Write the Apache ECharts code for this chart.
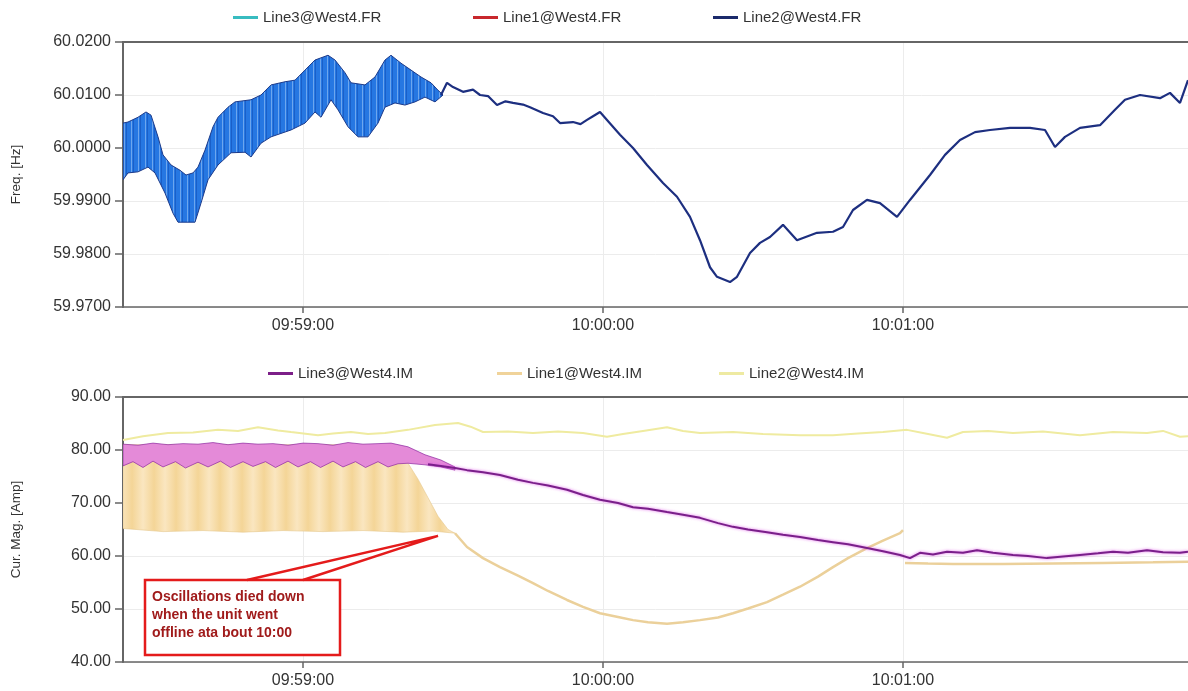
<!DOCTYPE html>
<html><head><meta charset="utf-8">
<script src="https://cdn.jsdelivr.net/npm/echarts@6/dist/echarts.min.js"></script>
<style>html,body{margin:0;padding:0;background:#fff}#c{width:1188px;height:691px}</style>
</head><body><div id="c"></div>
<script>
// time axis: seconds relative to 09:59:00
const xTickValues = [0, 60, 120];
const xTickLabels = ['09:59:00', '10:00:00', '10:01:00'];
const freqLegend = ['Line3@West4.FR', 'Line1@West4.FR', 'Line2@West4.FR'];
const curLegend = ['Line3@West4.IM', 'Line1@West4.IM', 'Line2@West4.IM'];

// Frequency chart: oscillation band (upper / lower envelope) and Line2
const freqBandUpper = [[-36,60.0047],[-35,60.0049],[-33,60.0058],[-31.4,60.0068],[-30.4,60.0062],[-29,60.0021],[-28,59.9987],[-26.4,59.9968],[-24.6,59.9958],[-23.4,59.9949],[-22,59.9953],[-21,59.9964],[-19.6,59.9996],[-18,60.0040],[-17,60.0058],[-15,60.0077],[-13.6,60.0087],[-10.4,60.0091],[-8.4,60.0100],[-6.4,60.0119],[-3.6,60.0125],[-1.6,60.0128],[0.4,60.0147],[2.4,60.0166],[5,60.0175],[6.4,60.0166],[8.4,60.0142],[9.6,60.0123],[12.4,60.0119],[14.4,60.0134],[16.4,60.0166],[17.6,60.0175],[19.6,60.0160],[21.6,60.0147],[23.6,60.0134],[25.6,60.0123],[27,60.0109],[28,60.0100]];
const freqBandLower = [[-36,59.9940],[-35,59.9953],[-33,59.9955],[-31,59.9964],[-29.6,59.9953],[-27.6,59.9915],[-26,59.9877],[-25,59.9860],[-21.6,59.9860],[-20.4,59.9896],[-19,59.9940],[-17,59.9968],[-14.4,59.9991],[-11.6,59.9992],[-10.4,59.9983],[-8.4,60.0009],[-6.4,60.0021],[-2.4,60.0034],[0.4,60.0047],[2.4,60.0068],[3.6,60.0058],[5.6,60.0091],[7,60.0072],[9,60.0040],[11,60.0021],[13,60.0021],[15,60.0047],[16.4,60.0077],[18.4,60.0085],[20.4,60.0081],[22.4,60.0087],[24.4,60.0096],[26.4,60.0087],[28,60.0100]];
const freqLine2 = [[27.6,60.0100],[28.8,60.0123],[30,60.0115],[32,60.0106],[34,60.0110],[35.4,60.0100],[37,60.0098],[38.8,60.0081],[40.5,60.0088],[42,60.0085],[44,60.0082],[45.4,60.0077],[48,60.0066],[50,60.0060],[51.4,60.0047],[54,60.0049],[55.5,60.0045],[56.8,60.0053],[58,60.0060],[59.4,60.0068],[60.8,60.0053],[63.4,60.0025],[66,60.0000],[68.8,59.9968],[72,59.9934],[74.8,59.9908],[77.4,59.9870],[79.4,59.9826],[81.4,59.9775],[82.8,59.9757],[85.4,59.9747],[86.8,59.9757],[89.4,59.9802],[91.4,59.9821],[93.4,59.9832],[96,59.9855],[98.8,59.9826],[102.8,59.9840],[106,59.9842],[108,59.9851],[110,59.9883],[112.8,59.9902],[115.4,59.9896],[118.8,59.9870],[121.4,59.9902],[125.4,59.9949],[128.4,59.9987],[131.4,60.0015],[134.4,60.0030],[137.4,60.0034],[141.4,60.0038],[145.4,60.0038],[148.4,60.0034],[150.4,60.0002],[152.4,60.0021],[155.4,60.0038],[159.4,60.0043],[162.4,60.0072],[164.4,60.0091],[167.4,60.0100],[171.4,60.0094],[173.4,60.0104],[175.4,60.0085],[177,60.0128]];
const freqLine1 = [];

// Current chart
const curLine2 = [[-36,81.9],[-32,82.6],[-27,83.2],[-22,83.3],[-17,83.8],[-13,83.6],[-9,84.3],[-5,83.7],[-2.4,83.4],[3,82.8],[6,83.1],[9.6,83.4],[13,83.0],[16.4,83.2],[21,83.8],[26.4,84.7],[31,85.1],[33.5,84.4],[36,83.4],[41,83.5],[46,83.2],[51,83.5],[56,83.2],[60.8,82.5],[64,83.0],[68,83.6],[72.8,84.3],[76,83.6],[79.4,83.2],[86,83.4],[92,83.0],[99.4,82.8],[106,82.8],[111,83.1],[116,83.4],[120.8,83.8],[124,83.2],[128.8,82.3],[132,83.4],[137,83.6],[142,83.2],[148,83.5],[155.4,82.8],[162,83.4],[168.8,83.2],[172,83.6],[175.4,82.5],[177,82.6]];
const curLine3BandUpper = [[-36,81.1],[-33,80.9],[-30,81.3],[-27,81.0],[-24,81.2],[-21,81.1],[-18,81.4],[-15,81.0],[-12,81.3],[-9,81.1],[-6,81.2],[-3,80.9],[0,81.3],[3,81.2],[6,80.9],[9,81.4],[12,81.1],[15,81.2],[17.6,81.3],[21,80.6],[24.4,79.1],[27.6,78.1],[30.4,76.8]];
const curLine3BandLower = [[-36,77.0],[-34,77.8],[-32,76.7],[-30,77.9],[-28,76.8],[-25.5,77.8],[-23.5,76.6],[-21,77.7],[-19,76.8],[-16.5,77.9],[-14.5,76.7],[-12,77.8],[-10,76.9],[-7.5,77.8],[-5.5,76.7],[-3,77.9],[-1,76.8],[1.5,77.8],[3.5,76.7],[6,77.9],[8,76.8],[10.5,77.8],[12.5,76.7],[15,77.8],[17,76.8],[19,77.4],[21,77.5],[24.4,77.2],[27.6,76.8],[30.4,76.2]];
const curLine3 = [[25,77.3],[27.6,77.0],[30.4,76.6],[32.8,76.2],[36,75.8],[39.4,75.3],[43,74.4],[46,73.8],[49,73.3],[52.8,72.5],[56,71.5],[59.4,70.6],[63,70.0],[66,69.2],[69,68.9],[72.8,68.3],[76,67.8],[79.4,67.2],[83,66.2],[86,65.5],[89,65.0],[92.8,64.5],[96,64.0],[99.4,63.6],[103,63.0],[106,62.6],[109,62.2],[112.8,61.5],[116,60.9],[119.4,60.2],[121.4,59.6],[123.4,60.6],[126,60.3],[128.8,60.8],[132,60.6],[134.8,61.1],[138,60.6],[142,60.2],[145,60.0],[148.8,59.6],[152,59.9],[155.4,60.2],[159,60.5],[162,60.8],[165,60.6],[168.8,61.1],[172,60.7],[175.4,60.6],[177,60.8]];
const curLine1BandUpper = [[-36,81.0],[-20,81.0],[0,81.0],[17,81.0],[19,80.0],[21,77.5],[23,74.5],[25,71.0],[27,67.5],[29,65.0],[30.4,64.3]];
const curLine1BandLower = [[-36,65.2],[-28,64.6],[-20,64.8],[-12,64.5],[-4,64.8],[4,64.6],[12,64.8],[20,64.5],[26,64.7],[30.4,64.3]];
const curLine1 = [[30.4,64.3],[32.8,61.7],[36,59.6],[39.4,57.9],[43,56.3],[46,54.9],[49,53.4],[52.8,51.7],[56,50.4],[59.4,49.2],[63,48.5],[66,47.9],[69,47.5],[72.8,47.2],[76,47.5],[79.4,47.9],[83,48.4],[86,49.2],[89,50.1],[92.8,51.3],[96,52.7],[99.4,54.2],[103,56.1],[106,57.9],[109,59.6],[112.8,61.5],[116,62.9],[119.4,64.3],[120,64.9],[120.2,null],[120.4,58.7],[125,58.6],[130,58.5],[140,58.5],[150,58.6],[160,58.7],[170,58.8],[177,58.9]];

const annotationTip = [27, 63.8];
const annotationText = 'Oscillations died down\nwhen the unit went\noffline ata bout 10:00';

const FONT = '"Liberation Sans", Arial, sans-serif';
const chart = echarts.init(document.getElementById('c'));

// stripe pattern for the oscillating current band
const pc = document.createElement('canvas'); pc.width = 22; pc.height = 4;
const g = pc.getContext('2d');
const grd = g.createLinearGradient(0,0,22,0);
grd.addColorStop(0,'#f4d597'); grd.addColorStop(0.5,'#fae6c0'); grd.addColorStop(1,'#f4d597');
g.fillStyle = grd; g.fillRect(0,0,22,4);

// streak pattern for the oscillating frequency band
const pb = document.createElement('canvas'); pb.width = 7; pb.height = 4;
const gb = pb.getContext('2d');
gb.fillStyle = '#2677e2'; gb.fillRect(0,0,7,4);
gb.fillStyle = '#6da6ee'; gb.fillRect(5,0,1,4);
gb.fillStyle = '#1a5fc8'; gb.fillRect(0,0,1,4);

function band(name, upper, lower, fill, stroke, idx, z) {
  return {
    type:'custom', name, xAxisIndex:idx, yAxisIndex:idx, z, clip:true, silent:true,
    data:[upper[0]],
    renderItem:(params, api) => {
      const pts = upper.map(p => api.coord(p)).concat(lower.slice().reverse().map(p => api.coord(p)));
      return {type:'polygon', shape:{points:pts}, style:{fill, stroke, lineWidth:1}};
    }
  };
}

function xAxisFor(i) {
  return {
    type:'value', gridIndex:i, min:-36, max:177,
    axisLine:{show:true, onZero:false, lineStyle:{color:'#666', width:1.5}},
    axisTick:{show:true, customValues:xTickValues, length:6, lineStyle:{color:'#666', width:1.5}},
    axisLabel:{customValues:xTickValues, formatter:v => xTickLabels[xTickValues.indexOf(v)], fontSize:16, color:'#333', fontFamily:FONT, margin:11},
    splitLine:{show:true, lineStyle:{color:'#ececec'}}
  };
}
function topAxisFor(i) {
  return {type:'value', gridIndex:i, position:'top', min:-36, max:177,
    axisLine:{show:true, onZero:false, lineStyle:{color:'#666', width:2}},
    axisTick:{show:false}, axisLabel:{show:false}, splitLine:{show:false}};
}
function yAxisFor(i, min, max, interval, digits, name) {
  return {
    type:'value', gridIndex:i, min, max, interval, name, nameLocation:'middle', nameGap:100, nameRotate:90,
    nameTextStyle:{fontSize:13.5, color:'#333', fontFamily:FONT},
    axisLine:{show:true, onZero:false, lineStyle:{color:'#666', width:2}},
    axisTick:{show:true, length:8, lineStyle:{color:'#666', width:1.5}},
    axisLabel:{formatter:v => v.toFixed(digits), fontSize:16, color:'#333', fontFamily:FONT, margin:12},
    splitLine:{show:true, lineStyle:{color:'#ececec'}}
  };
}
function legendItem(name, color, left, top) {
  return {left, top, padding:0, icon:'rect', itemWidth:25, itemHeight:3, itemGap:0,
    data:[{name, itemStyle:{color}}], textStyle:{fontSize:15, color:'#333', fontFamily:FONT}, selectedMode:false};
}

const freqColors = ['#38bcc0','#c8282d','#1b2a6b'];
const curColors = ['#7c1f88','#f0d39a','#eeeaa2'];

chart.setOption({
  animation:false,
  backgroundColor:'#fff',
  grid:[{left:123, top:42, right:0, height:265}, {left:123, top:397, right:0, height:265}],
  legend:[
    legendItem(freqLegend[0], freqColors[0], 233, 10),
    legendItem(freqLegend[1], freqColors[1], 473, 10),
    legendItem(freqLegend[2], freqColors[2], 713, 10),
    legendItem(curLegend[0], curColors[0], 268, 366),
    legendItem(curLegend[1], curColors[1], 497, 366),
    legendItem(curLegend[2], curColors[2], 719, 366)
  ],
  xAxis:[xAxisFor(0), xAxisFor(1), topAxisFor(0), topAxisFor(1)],
  yAxis:[yAxisFor(0, 59.97, 60.02, 0.01, 4, 'Freq. [Hz]'), yAxisFor(1, 40, 90, 10, 2, 'Cur. Mag. [Amp]')],
  series:[
    band(freqLegend[0], freqBandUpper, freqBandLower, {image:pb, repeat:'repeat'}, '#1c3a8a', 0, 3),
    {type:'line', name:freqLegend[1], xAxisIndex:0, yAxisIndex:0, data:freqLine1, showSymbol:false, lineStyle:{color:freqColors[1]}, itemStyle:{color:freqColors[1]}},
    {type:'line', name:freqLegend[2], xAxisIndex:0, yAxisIndex:0, data:freqLine2, showSymbol:false, z:4,
      lineStyle:{color:'#1d2f80', width:2.2}, itemStyle:{color:freqColors[2]}},

    band(curLegend[1], curLine1BandUpper, curLine1BandLower, {image:pc, repeat:'repeat'}, 'rgba(230,200,140,0.6)', 1, 2),
    {type:'line', name:curLegend[1], xAxisIndex:1, yAxisIndex:1, data:curLine1, showSymbol:false, connectNulls:false, z:3,
      lineStyle:{color:'#ebd09a', width:2.5}, itemStyle:{color:curColors[1]}},
    band(curLegend[0], curLine3BandUpper, curLine3BandLower, '#e48ad8', 'rgba(140,40,160,0.7)', 1, 4),
    {type:'line', name:curLegend[0], xAxisIndex:1, yAxisIndex:1, data:curLine3, showSymbol:false, z:5,
      lineStyle:{color:'#7a1f8a', width:2, shadowColor:'rgba(220,70,230,0.8)', shadowBlur:3}, itemStyle:{color:curColors[0]}},
    {type:'line', name:curLegend[2], xAxisIndex:1, yAxisIndex:1, data:curLine2, showSymbol:false, z:3,
      lineStyle:{color:'#efeba0', width:2}, itemStyle:{color:curColors[2]}}
  ]
});

const tip = chart.convertToPixel({xAxisIndex:1, yAxisIndex:1}, annotationTip);
chart.setOption({
  graphic:[
    {type:'rect', z:100, shape:{x:145, y:580, width:195, height:75}, style:{fill:'#fff', stroke:'#e41b1b', lineWidth:2.5}},
    {type:'polyline', z:101, shape:{points:[[247,580], tip, [303,580]]}, style:{fill:null, stroke:'#e41b1b', lineWidth:2.5}},
    {type:'text', z:102, x:152, y:588, style:{text:annotationText, font:'bold 14px "Liberation Sans", Arial, sans-serif', fill:'#a01b1b', lineHeight:18}}
  ]
});
</script></body></html>
